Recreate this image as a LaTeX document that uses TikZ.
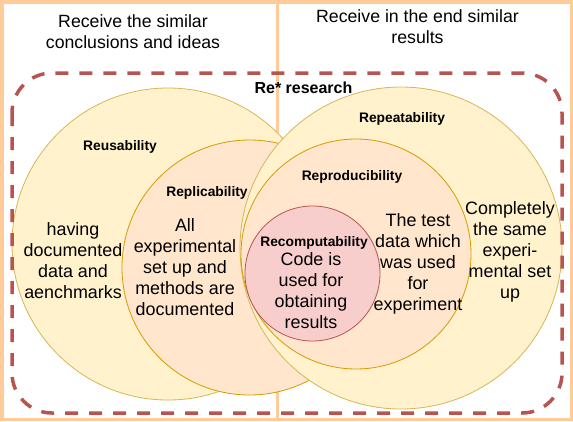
\documentclass[tikz,border=0pt]{standalone}
\usepackage{fontspec}
\setmainfont{Liberation Sans}
\definecolor{frameor}{HTML}{FFCC99}
\definecolor{yfill}{HTML}{FFF2CC}
\definecolor{ydraw}{HTML}{D6B656}
\definecolor{pfill}{HTML}{FFE6CC}
\definecolor{pdraw}{HTML}{D79B00}
\definecolor{rfill}{HTML}{F8CECC}
\definecolor{rdraw}{HTML}{B85450}
\begin{document}
\begin{tikzpicture}[x=1pt,y=-1pt,
  ycirc/.style={circle,fill=yfill,draw=ydraw,line width=0.8pt,inner sep=0pt,minimum size=#1},
  pcirc/.style={circle,fill=pfill,draw=pdraw,line width=0.8pt,inner sep=0pt,minimum size=#1},
  rcirc/.style={circle,fill=rfill,draw=rdraw,line width=0.8pt,inner sep=0pt,minimum size=#1},
  head/.style={font=\fontsize{17.7}{21}\selectfont,align=center,inner sep=0pt},
  body/.style={font=\fontsize{17.9}{21}\selectfont,align=center,inner sep=0pt},
  lab/.style={font=\fontsize{13.8}{16}\selectfont\bfseries,inner sep=0pt},
]
\useasboundingbox (0,0) rectangle (573,421);
% frame
\draw[frameor,line width=3.5pt] (1.75,1.75) rectangle (571.25,419.25);
\draw[frameor,line width=3.5pt] (277.5,0) -- (277.5,421);
% circles
\node[ycirc=312pt] (reus) at (168,244) {};
\node[pcirc=255pt] (repl) at (249.5,267.5) {};
\node[ycirc=322pt] (repe) at (401,248) {};
\node[pcirc=230pt] (repr) at (356,254) {};
\node[rcirc=135pt] (reco) at (312.5,273.5) {};
% headings
\node[head] (hl) at (133,31.5) {Receive the similar\\conclusions and ideas};
\node[head] (hr) at (417.5,26.5) {Receive in the end similar\\results};
\node[font=\fontsize{16}{19}\selectfont\bfseries,inner sep=0pt] (re) at (303.5,88) {Re* research};
% labels
\node[lab] (lreus) at (120,146.5) {Reusability};
\node[lab] (lrepl) at (207,192.5) {Replicability};
\node[lab] (lrepe) at (402,118.5) {Repeatability};
\node[lab] (lrepr) at (352,176.5) {Reproducibility};
\node[lab] (lreco) at (314,242.5) {Recomputability};
% bodies
\node[body] (breus) at (73,261) {having\\documented\\data and\\aenchmarks};
\node[body] (brepl) at (185,267.5) {All\\experimental\\set up and\\methods are\\documented};
\node[body] (breco) at (311,290.5) {Code is\\used for\\obtaining\\results};
\node[body] (brepr) at (418,263.5) {The test\\data which\\was used\\for\\experiment};
\node[body] (brepe) at (510,251.5) {Completely\\the same\\experi-\\mental set\\up};
% dashed boundary
\draw[rdraw,line width=3.5pt,dash pattern=on 13pt off 11pt,rounded corners=40pt] (12,73) rectangle (562,413);
\end{tikzpicture}
\end{document}
